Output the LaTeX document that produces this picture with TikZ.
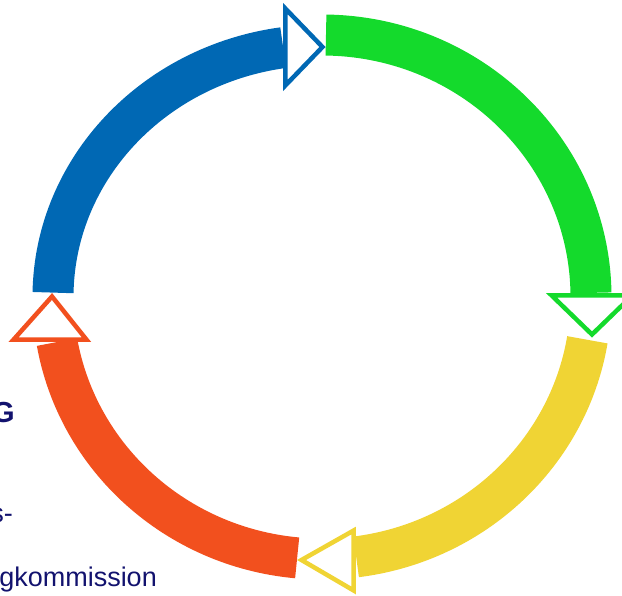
\documentclass[tikz,border=0pt]{standalone}
\usepackage{fontspec}
\setmainfont{Liberation Sans}
\definecolor{cblue}{RGB}{0,104,180}
\definecolor{cgreen}{RGB}{20,218,44}
\definecolor{cyellow}{RGB}{240,212,52}
\definecolor{corange}{RGB}{242,80,30}
\definecolor{navytext}{RGB}{18,18,110}

\begin{document}
\begin{tikzpicture}
[x=1pt,y=-1pt,
  banddecorate/.style={line width=41pt},%
  headdecorate/.style={line width=4.5pt,fill=white,line join=miter},%
  textdecorate/.style={text=navytext,inner sep=0pt,anchor=base east,font=\fontsize{27}{27}\selectfont}]
\useasboundingbox (0,0) rectangle (622,596);
\clip (0,0) rectangle (622,596);
%% bands of the cycle, angles measured clockwise from the right
%% (the y axis points down)
\foreach \colorname/\startangle/\endangle/\yradius in {
cblue/181/261.7/252, cgreen/270.85/359.1/262,
cyellow/9.4/82.7/262, corange/95.3/170.1/262}
{
  \draw[banddecorate,\colorname] (322,297) ++(\startangle:269 and \yradius)
    arc[start angle=\startangle,end angle=\endangle,x radius=269,y radius=\yradius];
}
%% hollow arrow heads: two base corners and the tip
\foreach \colorname/\ax/\ay/\bx/\by/\tx/\ty in {
cblue/285.3/8.5/285.3/85.5/322.5/47, cgreen/551.5/295.3/632.5/295.3/592/334.5,
cyellow/353.7/530.5/353.7/590.5/301.5/560, corange/13.5/339.7/86.5/339.7/52/296.5}
{
  \draw[draw=\colorname,headdecorate] (\ax,\ay) -- (\bx,\by) -- (\tx,\ty) -- cycle;
}
%% text cut off at the left edge
\node[textdecorate,font=\bfseries\fontsize{29}{29}\selectfont] (lastletter) at (15,423) {G};
\node[textdecorate] (hyphenend) at (13,522) {s-};
\node[textdecorate] (commission) at (157,586) {gkommission};
\end{tikzpicture}
\end{document}
